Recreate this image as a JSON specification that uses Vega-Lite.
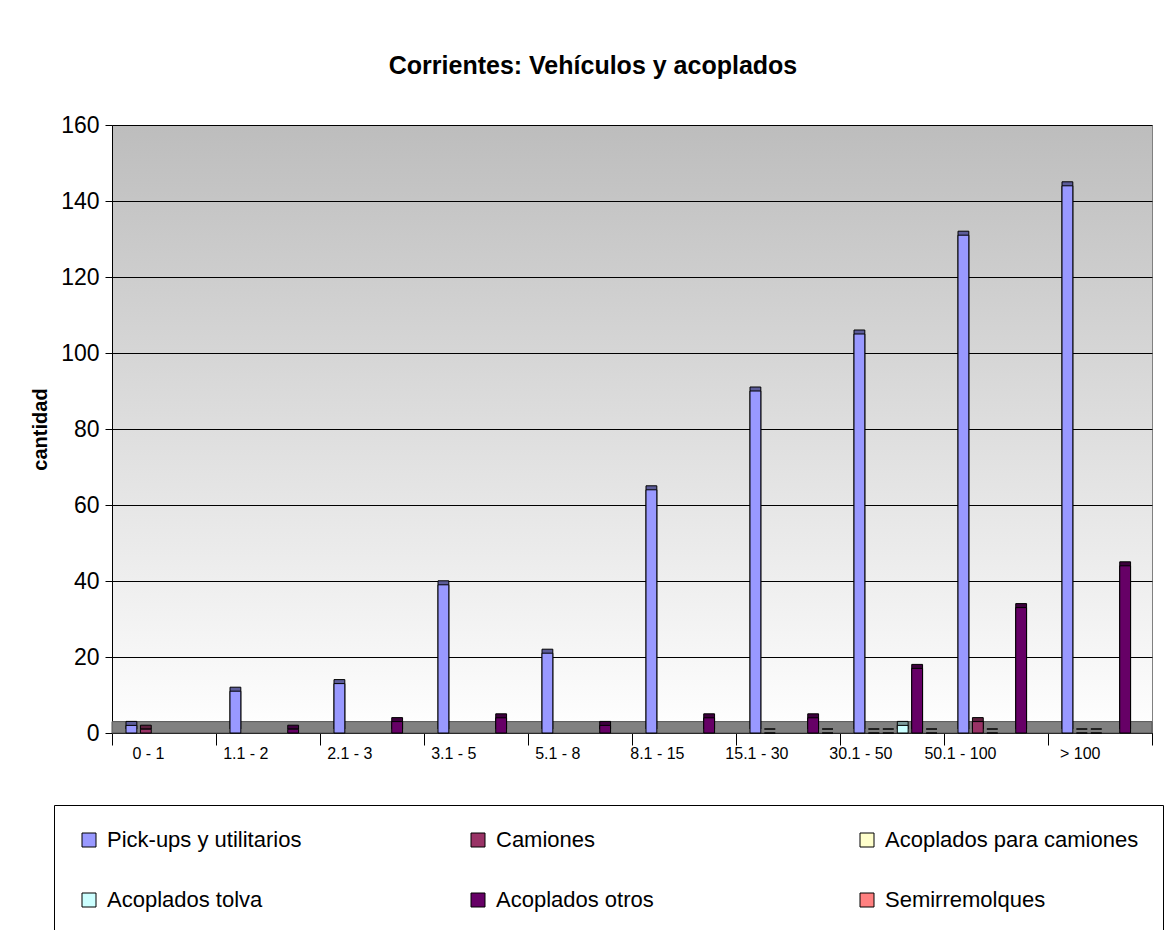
{
  "$schema": "https://vega.github.io/schema/vega-lite/v6.json",
  "width": 1040,
  "height": 608,
  "autosize": "none",
  "padding": {"left": 112, "top": 125, "right": 18, "bottom": 197},
  "background": "white",
  "title": {
    "text": "Corrientes: Vehículos y acoplados",
    "font": "Liberation Sans",
    "fontSize": 25,
    "fontWeight": "bold",
    "color": "black",
    "anchor": "middle",
    "baseline": "alphabetic",
    "dx": -39,
    "offset": 15
  },
  "config": {
    "font": "Liberation Sans",
    "view": {
      "stroke": "#808080",
      "fill": {
        "gradient": "linear",
        "x1": 0, "y1": 0, "x2": 0, "y2": 1,
        "stops": [
          {"offset": 0, "color": "#bdbdbd"},
          {"offset": 1, "color": "#ffffff"}
        ]
      }
    }
  },
  "datasets": {
    "vehiculos": [
      {"rango": "0 - 1", "tipo": "Pick-ups y utilitarios", "cantidad": 2},
      {"rango": "0 - 1", "tipo": "Camiones", "cantidad": 1},
      {"rango": "1.1 - 2", "tipo": "Pick-ups y utilitarios", "cantidad": 11},
      {"rango": "1.1 - 2", "tipo": "Acoplados otros", "cantidad": 1},
      {"rango": "2.1 - 3", "tipo": "Pick-ups y utilitarios", "cantidad": 13},
      {"rango": "2.1 - 3", "tipo": "Acoplados otros", "cantidad": 3},
      {"rango": "3.1 - 5", "tipo": "Pick-ups y utilitarios", "cantidad": 39},
      {"rango": "3.1 - 5", "tipo": "Acoplados otros", "cantidad": 4},
      {"rango": "5.1 - 8", "tipo": "Pick-ups y utilitarios", "cantidad": 21},
      {"rango": "5.1 - 8", "tipo": "Acoplados otros", "cantidad": 2},
      {"rango": "8.1 - 15", "tipo": "Pick-ups y utilitarios", "cantidad": 64},
      {"rango": "8.1 - 15", "tipo": "Acoplados otros", "cantidad": 4},
      {"rango": "15.1 - 30", "tipo": "Pick-ups y utilitarios", "cantidad": 90},
      {"rango": "15.1 - 30", "tipo": "Camiones", "cantidad": 0},
      {"rango": "15.1 - 30", "tipo": "Acoplados otros", "cantidad": 4},
      {"rango": "15.1 - 30", "tipo": "Semirremolques", "cantidad": 0},
      {"rango": "30.1 - 50", "tipo": "Pick-ups y utilitarios", "cantidad": 105},
      {"rango": "30.1 - 50", "tipo": "Camiones", "cantidad": 0},
      {"rango": "30.1 - 50", "tipo": "Acoplados para camiones", "cantidad": 0},
      {"rango": "30.1 - 50", "tipo": "Acoplados tolva", "cantidad": 2},
      {"rango": "30.1 - 50", "tipo": "Acoplados otros", "cantidad": 17},
      {"rango": "30.1 - 50", "tipo": "Semirremolques", "cantidad": 0},
      {"rango": "50.1 - 100", "tipo": "Pick-ups y utilitarios", "cantidad": 131},
      {"rango": "50.1 - 100", "tipo": "Camiones", "cantidad": 3},
      {"rango": "50.1 - 100", "tipo": "Acoplados para camiones", "cantidad": 0},
      {"rango": "50.1 - 100", "tipo": "Acoplados otros", "cantidad": 33},
      {"rango": "> 100", "tipo": "Pick-ups y utilitarios", "cantidad": 144},
      {"rango": "> 100", "tipo": "Camiones", "cantidad": 0},
      {"rango": "> 100", "tipo": "Acoplados para camiones", "cantidad": 0},
      {"rango": "> 100", "tipo": "Acoplados otros", "cantidad": 44}
    ],
    "piso": [{"base": 0, "tope": 3}]
  },
  "layer": [
    {
      "data": {"name": "piso"},
      "mark": {"type": "rect", "fill": "#808080", "stroke": "#555555", "strokeWidth": 1},
      "encoding": {
        "y": {"field": "tope", "type": "quantitative"},
        "y2": {"field": "base"}
      }
    },
    {
      "data": {"name": "vehiculos"},
      "mark": {"type": "bar", "xOffset": 4, "yOffset": -4, "stroke": "black", "strokeWidth": 1},
      "encoding": {
        "x": {
          "field": "rango", "type": "nominal",
          "sort": ["0 - 1", "1.1 - 2", "2.1 - 3", "3.1 - 5", "5.1 - 8", "8.1 - 15", "15.1 - 30", "30.1 - 50", "50.1 - 100", "> 100"],
          "scale": {"paddingInner": 0, "paddingOuter": 0}
        },
        "xOffset": {
          "field": "tipo",
          "sort": ["Pick-ups y utilitarios", "Camiones", "Acoplados para camiones", "Acoplados tolva", "Acoplados otros", "Semirremolques"],
          "scale": {"range": [14, 97], "paddingInner": 0.25, "paddingOuter": 0}
        },
        "y": {"field": "cantidad", "type": "quantitative", "scale": {"domain": [0, 160], "nice": false}},
        "color": {
          "field": "tipo", "type": "nominal",
          "scale": {
            "domain": ["Pick-ups y utilitarios", "Camiones", "Acoplados para camiones", "Acoplados tolva", "Acoplados otros", "Semirremolques"],
            "range": ["#5c5c99", "#5c1f3d", "#99997a", "#7a9999", "#3d003d", "#994d4d"]
          },
          "legend": null
        }
      }
    },
    {
      "data": {"name": "vehiculos"},
      "mark": {"type": "bar", "stroke": "black", "strokeWidth": 1},
      "encoding": {
        "x": {
          "field": "rango", "type": "nominal",
          "sort": ["0 - 1", "1.1 - 2", "2.1 - 3", "3.1 - 5", "5.1 - 8", "8.1 - 15", "15.1 - 30", "30.1 - 50", "50.1 - 100", "> 100"],
          "scale": {"paddingInner": 0, "paddingOuter": 0},
          "axis": {
            "title": null,
            "labelAngle": 0,
            "labelFont": "Liberation Sans",
            "labelFontSize": 16,
            "labelColor": "black",
            "labelPadding": 8,
            "tickSize": 12,
            "tickColor": "black",
            "tickBand": "extent",
            "domainColor": "black",
            "grid": false
          }
        },
        "xOffset": {
          "field": "tipo",
          "sort": ["Pick-ups y utilitarios", "Camiones", "Acoplados para camiones", "Acoplados tolva", "Acoplados otros", "Semirremolques"],
          "scale": {"range": [14, 97], "paddingInner": 0.25, "paddingOuter": 0}
        },
        "y": {
          "field": "cantidad", "type": "quantitative",
          "scale": {"domain": [0, 160], "nice": false},
          "axis": {
            "title": "cantidad",
            "titleFont": "Liberation Sans",
            "titleFontSize": 20,
            "titleFontWeight": "bold",
            "titleColor": "black",
            "titlePadding": 10,
            "values": [0, 20, 40, 60, 80, 100, 120, 140, 160],
            "labelFont": "Liberation Sans",
            "labelFontSize": 23,
            "labelColor": "black",
            "labelPadding": 6,
            "tickSize": 7,
            "tickColor": "black",
            "domainColor": "black",
            "grid": true,
            "gridColor": "black",
            "gridWidth": 1
          }
        },
        "color": {
          "field": "tipo", "type": "nominal",
          "scale": {
            "domain": ["Pick-ups y utilitarios", "Camiones", "Acoplados para camiones", "Acoplados tolva", "Acoplados otros", "Semirremolques"],
            "range": ["#9999FF", "#993366", "#FFFFCC", "#CCFFFF", "#660066", "#FF8080"]
          },
          "legend": {
            "title": null,
            "orient": "none",
            "direction": "horizontal",
            "legendX": -58,
            "legendY": 680,
            "columns": 3,
            "gridAlign": "all",
            "columnPadding": 106,
            "rowPadding": 38,
            "symbolType": "square",
            "symbolSize": 196,
            "symbolStrokeColor": "black",
            "symbolStrokeWidth": 1,
            "labelFont": "Liberation Sans",
            "labelFontSize": 22,
            "labelColor": "black",
            "labelOffset": 7,
            "labelLimit": 400,
            "strokeColor": "black",
            "fillColor": "white",
            "padding": 24
          }
        }
      }
    }
  ],
  "resolve": {"scale": {"color": "independent"}}
}
